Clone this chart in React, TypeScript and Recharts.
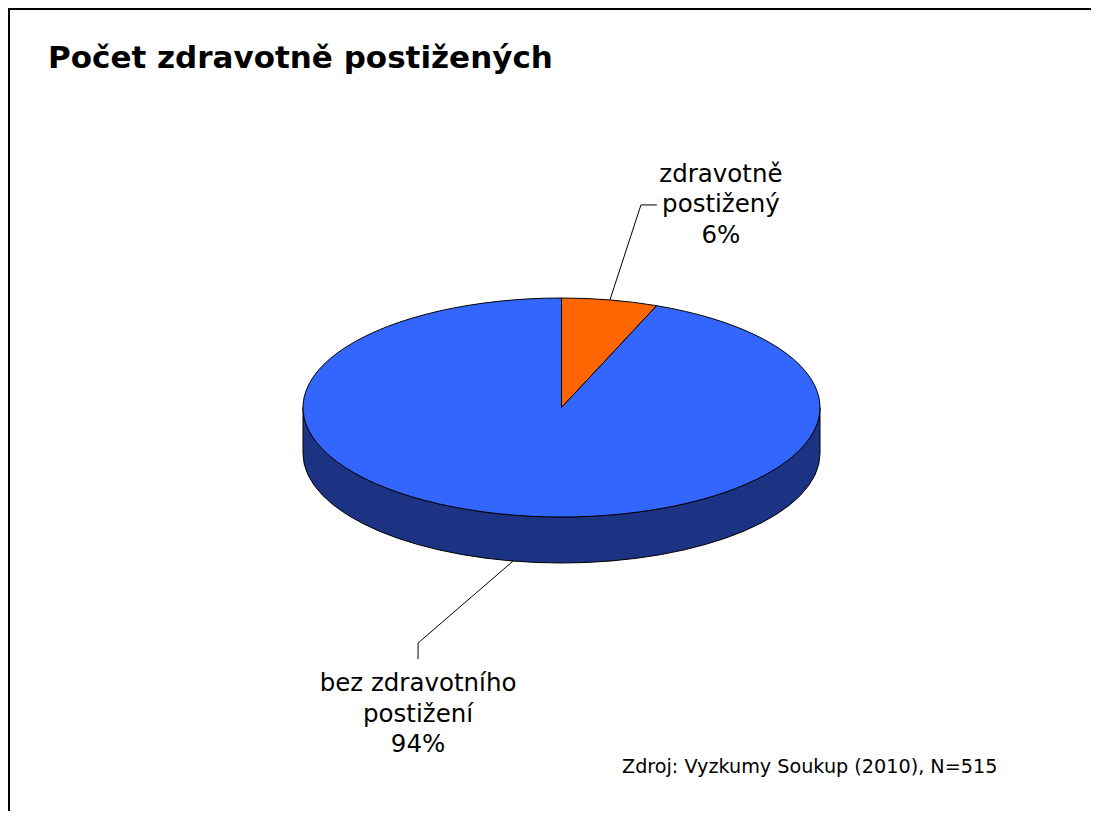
import { PieChart, Pie, Cell } from "recharts";

const categories = ["zdravotně postižený", "bez zdravotního postižení"];
const shares = [6, 94];
const labelLines = [
    ["zdravotně", "postižený"],
    ["bez zdravotního", "postižení"],
];
const topColors = ["#FF6600", "#3366FF"];
const sideColors = ["#803300", "#1B3382"];

const data = categories.map((name, i) => ({ name, value: shares[i] }));

const TILT = 109.5 / 258.5;
const DEPTH = 46;
const FONT = "Verdana, 'DejaVu Sans', sans-serif";

// leader line: anchor -> elbow -> end, then text relative to end
const leaders = [
    { ex: 31, ey: -95, hx: 16, hy: 0, tx: 64, ty: -23 },
    { ex: -95, ey: 82, hx: 0, hy: 16, tx: 0, ty: 32 },
];

function renderSlice(props: any) {
    const { cx, cy, outerRadius, startAngle, endAngle, midAngle, percent, index } = props;
    const rx = outerRadius;
    const ry = outerRadius * TILT;
    const pt = (a: number, dy = 0) => {
        const r = (a * Math.PI) / 180;
        return [cx + rx * Math.cos(r), cy - ry * Math.sin(r) + dy];
    };
    const hi0 = Math.max(startAngle, endAngle);
    const lo0 = Math.min(startAngle, endAngle);

    const bands: string[] = [];
    for (let k = -2; k <= 1; k++) {
        const lo = Math.max(lo0, -180 + 360 * k);
        const hi = Math.min(hi0, 360 * k);
        if (hi - lo > 0.01) {
            const [ax, ay] = pt(hi);
            const [bx, by] = pt(lo);
            bands.push(
                `M${ax},${ay} A${rx},${ry} 0 0 1 ${bx},${by} L${bx},${by + DEPTH} A${rx},${ry} 0 0 0 ${ax},${ay + DEPTH} Z`
            );
        }
    }

    const [sx, sy] = pt(hi0);
    const [ex, ey] = pt(lo0);
    const large = hi0 - lo0 > 180 ? 1 : 0;
    const top = `M${cx},${cy} L${sx},${sy} A${rx},${ry} 0 ${large} 1 ${ex},${ey} Z`;

    const lower = Math.sin((midAngle * Math.PI) / 180) < 0;
    const [mx, my] = pt(midAngle, lower ? DEPTH : 0);
    const L = leaders[index];
    const elx = mx + L.ex;
    const ely = my + L.ey;
    const endx = elx + L.hx;
    const endy = ely + L.hy;
    const lines = [...labelLines[index], `${Math.round(percent * 100)}%`];

    return (
        <g key={`slice-${index}`}>
            {bands.map((d, i) => (
                <path key={i} d={d} fill={sideColors[index]} stroke="#000" strokeWidth={1} />
            ))}
            <path d={top} fill={topColors[index]} stroke="#000" strokeWidth={1} />
            <polyline
                points={`${mx},${my} ${elx},${ely} ${endx},${endy}`}
                fill="none"
                stroke="#000"
                strokeWidth={1}
            />
            <text
                x={endx + L.tx}
                y={endy + L.ty}
                textAnchor="middle"
                fontFamily={FONT}
                fontSize={24.5}
                fill="#000"
            >
                {lines.map((t, i) => (
                    <tspan key={i} x={endx + L.tx} dy={i === 0 ? 0 : 30.5}>
                        {t}
                    </tspan>
                ))}
            </text>
        </g>
    );
}

const W = 1091;
const H = 811;

export default function App() {
    return (
        <div style={{ position: "relative", width: W, height: H, marginBottom: -8, overflow: "hidden" }}>
            <svg width={W} height={H} style={{ position: "absolute", left: 0, top: 0 }}>
                <line x1={1} y1={0} x2={1} y2={H} stroke="#000" strokeWidth={2} />
                <line x1={0} y1={1} x2={W} y2={1} stroke="#000" strokeWidth={2} />
                <text x={40} y={60} fontFamily={FONT} fontWeight="bold" fontSize={31} fill="#000">
                    Počet zdravotně postižených
                </text>
                <text x={614} y={765} fontFamily={FONT} fontSize={19.2} fill="#000">
                    Zdroj: Vyzkumy Soukup (2010), N=515
                </text>
            </svg>
            <div style={{ position: "absolute", left: 0, top: 0 }}>
                <PieChart width={W} height={H}>
                    <Pie
                        data={data}
                        dataKey="value"
                        nameKey="name"
                        cx={548.5}
                        cy={394.5}
                        outerRadius={258.5}
                        startAngle={90}
                        endAngle={-270}
                        label={renderSlice}
                        labelLine={false}
                        isAnimationActive={false}
                    >
                        {data.map((d) => (
                            <Cell key={d.name} fill="none" stroke="none" />
                        ))}
                    </Pie>
                </PieChart>
            </div>
        </div>
    );
}
